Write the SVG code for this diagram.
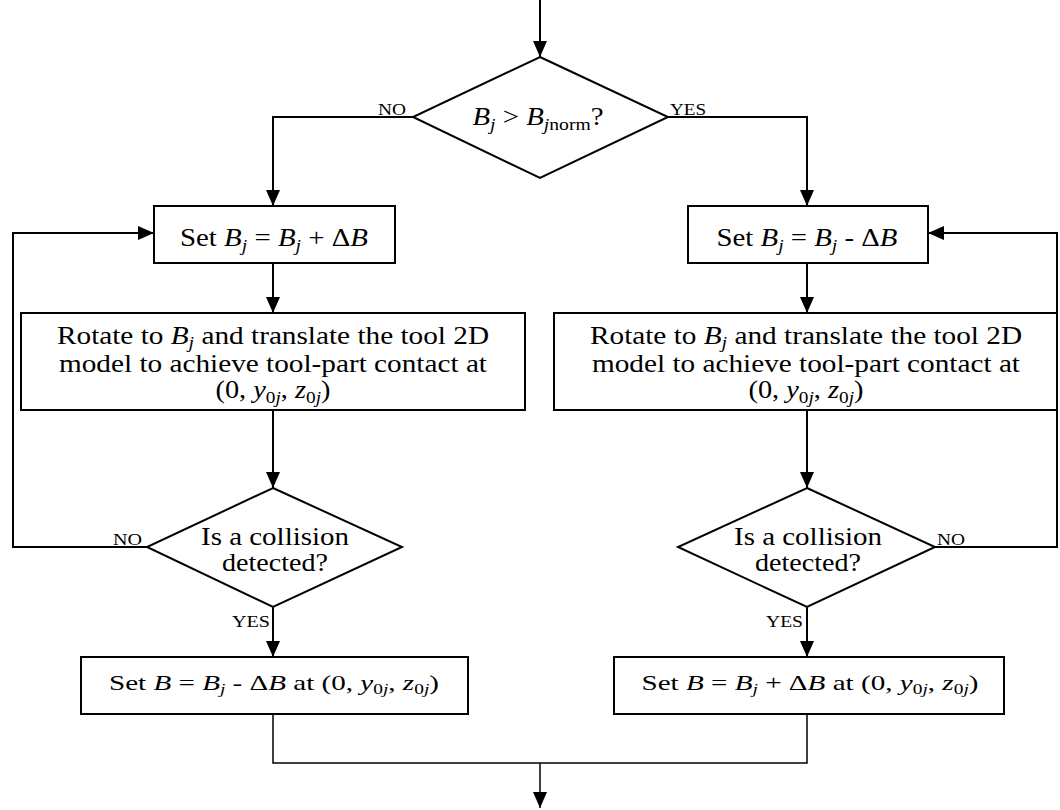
<svg xmlns="http://www.w3.org/2000/svg" width="1060" height="810" viewBox="0 0 1060 810">
  <style>
    text { font-family: 'Liberation Serif', Tinos, 'Times New Roman', Times, serif; fill: #000; text-anchor: middle; }
    .t { font-size: 25px; }
    .b { font-size: 21px; }
    .lbl { font-size: 17px; text-anchor: start; }
    .i { font-style: italic; }
    .s { font-size: 17px; }
    .bs { font-size: 14px; }
    .box { fill: #fff; stroke: #000; stroke-width: 2; }
    .ln { fill: none; stroke: #000; stroke-width: 2; }
    .thin { fill: none; stroke: #000; stroke-width: 1.5; }
  </style>
  <defs>
    <marker id="arr" viewBox="0 0 16 14" refX="16" refY="7" markerWidth="16" markerHeight="14" markerUnits="userSpaceOnUse" orient="auto">
      <path d="M0,0 L16,7 L0,14 z" fill="#000"/>
    </marker>
  </defs>
  <rect width="1060" height="810" fill="#fff"/>

  <!-- connectors -->
  <g id="connectors">
    <line class="ln" x1="540" y1="0" x2="540" y2="57" marker-end="url(#arr)"/>
    <polyline class="ln" points="413,117 273,117 273,206" marker-end="url(#arr)"/>
    <polyline class="ln" points="668,117 807,117 807,206" marker-end="url(#arr)"/>
    <line class="ln" x1="273" y1="263" x2="273" y2="313" marker-end="url(#arr)"/>
    <line class="ln" x1="807" y1="263" x2="807" y2="313" marker-end="url(#arr)"/>
    <line class="ln" x1="273" y1="410" x2="273" y2="488" marker-end="url(#arr)"/>
    <line class="ln" x1="807" y1="410" x2="807" y2="488" marker-end="url(#arr)"/>
    <polyline class="ln" points="147,547 13,547 13,233 154,233" marker-end="url(#arr)"/>
    <polyline class="ln" points="935,547 1057,547 1057,233 928,233" marker-end="url(#arr)"/>
    <line class="ln" x1="273" y1="607" x2="273" y2="657" marker-end="url(#arr)"/>
    <line class="ln" x1="807" y1="607" x2="807" y2="657" marker-end="url(#arr)"/>
    <polyline class="thin" points="273,714 273,763 807,763 807,714"/>
    <line class="thin" x1="540" y1="763" x2="540" y2="808" marker-end="url(#arr)"/>
    <text class="lbl" x="378" y="115" textLength="28" lengthAdjust="spacingAndGlyphs">NO</text>
    <text class="lbl" x="670" y="115" textLength="36" lengthAdjust="spacingAndGlyphs">YES</text>
    <text class="lbl" x="113" y="545" textLength="29" lengthAdjust="spacingAndGlyphs">NO</text>
    <text class="lbl" x="937" y="545" textLength="28" lengthAdjust="spacingAndGlyphs">NO</text>
    <text class="lbl" x="232" y="627" textLength="38" lengthAdjust="spacingAndGlyphs">YES</text>
    <text class="lbl" x="766" y="627" textLength="37" lengthAdjust="spacingAndGlyphs">YES</text>
  </g>

  <!-- decision: Bj > Bjnorm -->
  <g id="decision-start">
    <polygon class="box" points="540,57 668,117 540,178 413,117"/>
    <text class="t" x="538" y="125" textLength="131" lengthAdjust="spacingAndGlyphs"><tspan class="i">B</tspan><tspan class="s i" dy="5">j</tspan><tspan dy="-5"> &gt; </tspan><tspan class="i">B</tspan><tspan class="s" dy="5"><tspan class="i">j</tspan>norm</tspan><tspan dy="-5">?</tspan></text>
  </g>

  <!-- left branch -->
  <g id="set-plus">
    <rect class="box" x="154" y="206" width="241" height="57"/>
    <text class="t" x="274" y="246" textLength="188" lengthAdjust="spacingAndGlyphs">Set <tspan class="i">B</tspan><tspan class="s i" dy="5">j</tspan><tspan dy="-5"> = </tspan><tspan class="i">B</tspan><tspan class="s i" dy="5">j</tspan><tspan dy="-5"> + Δ</tspan><tspan class="i">B</tspan></text>
  </g>
  <g id="rotate-left">
    <rect class="box" x="21" y="313" width="504" height="97"/>
    <text class="t" x="273" y="344" textLength="432" lengthAdjust="spacingAndGlyphs">Rotate to <tspan class="i">B</tspan><tspan class="s i" dy="4">j</tspan><tspan dy="-4"> and translate the tool 2D</tspan></text>
    <text class="t" x="273" y="372" textLength="428" lengthAdjust="spacingAndGlyphs">model to achieve tool-part contact at</text>
    <text class="t" x="273" y="398" textLength="115" lengthAdjust="spacingAndGlyphs">(0, <tspan class="i">y</tspan><tspan class="s" dy="5">0<tspan class="i">j</tspan></tspan><tspan dy="-5">, </tspan><tspan class="i">z</tspan><tspan class="s" dy="5">0<tspan class="i">j</tspan></tspan><tspan dy="-5">)</tspan></text>
  </g>
  <g id="collision-left">
    <polygon class="box" points="273,488 402,547 273,607 147,547"/>
    <text class="t" x="275" y="545" textLength="148" lengthAdjust="spacingAndGlyphs">Is a collision</text>
    <text class="t" x="275" y="571" textLength="106" lengthAdjust="spacingAndGlyphs">detected?</text>
  </g>
  <g id="result-left">
    <rect class="box" x="81" y="657" width="387" height="57"/>
    <text class="b" x="274" y="690" textLength="330" lengthAdjust="spacingAndGlyphs">Set <tspan class="i">B</tspan> = <tspan class="i">B</tspan><tspan class="bs i" dy="4">j</tspan><tspan dy="-4"> - Δ</tspan><tspan class="i">B</tspan> at (0, <tspan class="i">y</tspan><tspan class="bs" dy="4">0<tspan class="i">j</tspan></tspan><tspan dy="-4">, </tspan><tspan class="i">z</tspan><tspan class="bs" dy="4">0<tspan class="i">j</tspan></tspan><tspan dy="-4">)</tspan></text>
  </g>

  <!-- right branch -->
  <g id="set-minus">
    <rect class="box" x="688" y="206" width="240" height="57"/>
    <text class="t" x="807" y="246" textLength="181" lengthAdjust="spacingAndGlyphs">Set <tspan class="i">B</tspan><tspan class="s i" dy="5">j</tspan><tspan dy="-5"> = </tspan><tspan class="i">B</tspan><tspan class="s i" dy="5">j</tspan><tspan dy="-5"> - Δ</tspan><tspan class="i">B</tspan></text>
  </g>
  <g id="rotate-right">
    <rect class="box" x="554" y="313" width="503" height="97"/>
    <text class="t" x="806" y="344" textLength="432" lengthAdjust="spacingAndGlyphs">Rotate to <tspan class="i">B</tspan><tspan class="s i" dy="4">j</tspan><tspan dy="-4"> and translate the tool 2D</tspan></text>
    <text class="t" x="806" y="372" textLength="428" lengthAdjust="spacingAndGlyphs">model to achieve tool-part contact at</text>
    <text class="t" x="806" y="398" textLength="115" lengthAdjust="spacingAndGlyphs">(0, <tspan class="i">y</tspan><tspan class="s" dy="5">0<tspan class="i">j</tspan></tspan><tspan dy="-5">, </tspan><tspan class="i">z</tspan><tspan class="s" dy="5">0<tspan class="i">j</tspan></tspan><tspan dy="-5">)</tspan></text>
  </g>
  <g id="collision-right">
    <polygon class="box" points="807,488 935,547 807,607 678,547"/>
    <text class="t" x="808" y="545" textLength="148" lengthAdjust="spacingAndGlyphs">Is a collision</text>
    <text class="t" x="808" y="571" textLength="106" lengthAdjust="spacingAndGlyphs">detected?</text>
  </g>
  <g id="result-right">
    <rect class="box" x="614" y="657" width="390" height="57"/>
    <text class="b" x="810" y="690" textLength="337" lengthAdjust="spacingAndGlyphs">Set <tspan class="i">B</tspan> = <tspan class="i">B</tspan><tspan class="bs i" dy="4">j</tspan><tspan dy="-4"> + Δ</tspan><tspan class="i">B</tspan> at (0, <tspan class="i">y</tspan><tspan class="bs" dy="4">0<tspan class="i">j</tspan></tspan><tspan dy="-4">, </tspan><tspan class="i">z</tspan><tspan class="bs" dy="4">0<tspan class="i">j</tspan></tspan><tspan dy="-4">)</tspan></text>
  </g>
</svg>
